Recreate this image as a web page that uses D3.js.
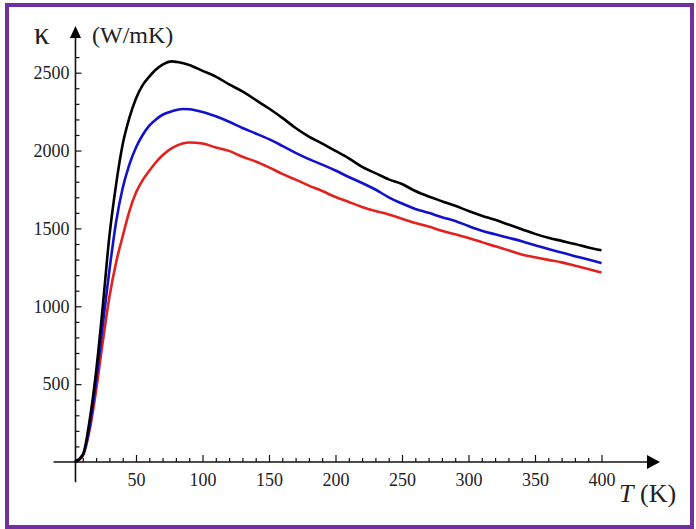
<!DOCTYPE html>
<html lang="en">
<head>
<meta charset="UTF-8">
<title>Thermal conductivity vs temperature</title>
<script src="https://d3js.org/d3.v7.min.js"></script>
<style>
  html, body { margin: 0; padding: 0; background: #fff; }
  svg { display: block; }
  .tick text { font-family: 'Liberation Serif', 'Times New Roman', serif; font-size: 18px; fill: #222; }
  .axis-title { font-family: 'Liberation Serif', 'Times New Roman', serif; fill: #222; }
</style>
</head>
<body>
<svg id="chart" width="696" height="529"></svg>
<script>
// temperatures (K) and conductivity (W/mK)
const temps = [4, 10, 15, 20, 25, 30, 35, 40, 45, 50, 55, 60, 65, 70, 77, 85, 90, 100, 110, 120, 130, 140, 150, 160, 170, 180, 190, 200,
  210, 220, 230, 240, 250, 260, 270, 280, 290, 300, 310, 320, 330, 340, 350, 360, 370, 380, 390, 400];

const kappaBlack = [0, 45, 260, 580, 998, 1450, 1780, 2040, 2210, 2335, 2420, 2475, 2520, 2552, 2573, 2562, 2550, 2512, 2475, 2425, 2380, 2325, 2270, 2210, 2145, 2090, 2045, 1998,
  1950, 1895, 1855, 1815, 1785, 1740, 1705, 1675, 1645, 1612, 1582, 1555, 1525, 1495, 1465, 1440, 1420, 1400, 1378, 1360];

const kappaBlue = [0, 45, 220, 520, 880, 1230, 1540, 1760, 1910, 2020, 2100, 2160, 2200, 2230, 2252, 2267, 2265, 2248, 2220, 2185, 2145, 2110, 2073, 2030, 1985, 1945, 1910, 1872,
  1830, 1792, 1750, 1700, 1660, 1625, 1600, 1572, 1548, 1515, 1485, 1462, 1440, 1418, 1392, 1368, 1345, 1322, 1300, 1277];

const kappaRed = [0, 40, 200, 460, 770, 1060, 1280, 1450, 1610, 1730, 1810, 1870, 1925, 1970, 2015, 2045, 2052, 2045, 2020, 1998, 1960, 1930, 1892, 1850, 1813, 1775, 1740, 1702,
  1670, 1638, 1612, 1590, 1562, 1535, 1512, 1485, 1462, 1438, 1412, 1385, 1360, 1333, 1315, 1298, 1282, 1260, 1240, 1217];

const xMajor = [50, 100, 150, 200, 250, 300, 350, 400];
const yMajor = [500, 1000, 1500, 2000, 2500];

const series = [
  { values: kappaRed, color: '#e3211f' },
  { values: kappaBlue, color: '#1212cc' },
  { values: kappaBlack, color: '#000000' }
];

const svg = d3.select('#chart');

// purple frame
svg.append('rect')
  .attr('x', 7).attr('y', 5)
  .attr('width', 685).attr('height', 522)
  .attr('fill', 'none')
  .attr('stroke', '#7030a0')
  .attr('stroke-width', 4);

const x = d3.scaleLinear().domain([0, 400]).range([69.5, 601.5]);
const y = d3.scaleLinear().domain([0, 2500]).range([462, 72.7]);

const xOrigin = 4.5; // where the vertical axis crosses

// minor + major ticks on the T axis (pointing up)
const xMinor = d3.range(10, 401, 10).filter(d => d % 50 !== 0);
svg.append('g')
  .attr('transform', 'translate(0,' + y(0) + ')')
  .call(d3.axisBottom(x).tickValues(xMinor).tickSize(-4).tickFormat(''))
  .call(g => g.select('.domain').remove());
svg.append('g')
  .attr('transform', 'translate(0,' + y(0) + ')')
  .call(d3.axisBottom(x).tickValues(xMajor).tickSize(-7).tickPadding(11).tickFormat(d3.format('d')))
  .call(g => g.select('.domain').remove());

// minor + major ticks on the kappa axis (pointing right)
const yMinor = d3.range(100, 2601, 100).filter(d => d % 500 !== 0);
svg.append('g')
  .attr('transform', 'translate(' + x(xOrigin) + ',0)')
  .call(d3.axisLeft(y).tickValues(yMinor).tickSize(-4).tickFormat(''))
  .call(g => g.select('.domain').remove());
svg.append('g')
  .attr('transform', 'translate(' + x(xOrigin) + ',0)')
  .call(d3.axisLeft(y).tickValues(yMajor).tickSize(-6).tickPadding(6).tickFormat(d3.format('d')))
  .call(g => g.select('.domain').remove());

svg.selectAll('.tick line').attr('stroke', '#111').attr('stroke-width', 1.2);

// axis lines with arrow heads
const ax0 = x(xOrigin), ay0 = y(0);
const xEnd = x(444), yEnd = y(2800);
svg.append('line')
  .attr('x1', x(-12)).attr('x2', xEnd - 10)
  .attr('y1', ay0).attr('y2', ay0)
  .attr('stroke', '#111').attr('stroke-width', 1.6);
svg.append('path')
  .attr('d', 'M' + xEnd + ',' + ay0 + 'L' + (xEnd - 13) + ',' + (ay0 - 7) + 'L' + (xEnd - 13) + ',' + (ay0 + 7) + 'Z')
  .attr('fill', '#000');
svg.append('line')
  .attr('x1', ax0).attr('x2', ax0)
  .attr('y1', y(-130)).attr('y2', yEnd + 10)
  .attr('stroke', '#111').attr('stroke-width', 1.6);
svg.append('path')
  .attr('d', 'M' + ax0 + ',' + yEnd + 'L' + (ax0 - 5.5) + ',' + (yEnd + 12) + 'L' + (ax0 + 5.5) + ',' + (yEnd + 12) + 'Z')
  .attr('fill', '#000');

// curves
const line = d3.line()
  .x((d, i) => x(temps[i]))
  .y(d => y(d))
  .curve(d3.curveMonotoneX);

svg.selectAll('.curve')
  .data(series)
  .enter().append('path')
  .attr('class', 'curve')
  .attr('d', d => line(d.values))
  .attr('fill', 'none')
  .attr('stroke', d => d.color)
  .attr('stroke-width', 2.6)
  .attr('stroke-linejoin', 'round');

// axis titles
svg.append('text').attr('class', 'axis-title')
  .attr('x', 34).attr('y', 44)
  .style('font-size', '31px')
  .text('κ');
svg.append('text').attr('class', 'axis-title')
  .attr('x', 92).attr('y', 43)
  .style('font-size', '24px')
  .text('(W/mK)');
svg.append('text').attr('class', 'axis-title')
  .attr('x', 619).attr('y', 502)
  .style('font-size', '26px')
  .style('font-style', 'italic')
  .text('T');
svg.append('text').attr('class', 'axis-title')
  .attr('x', 640).attr('y', 502)
  .style('font-size', '26px')
  .text('(K)');
</script>
</body>
</html>
